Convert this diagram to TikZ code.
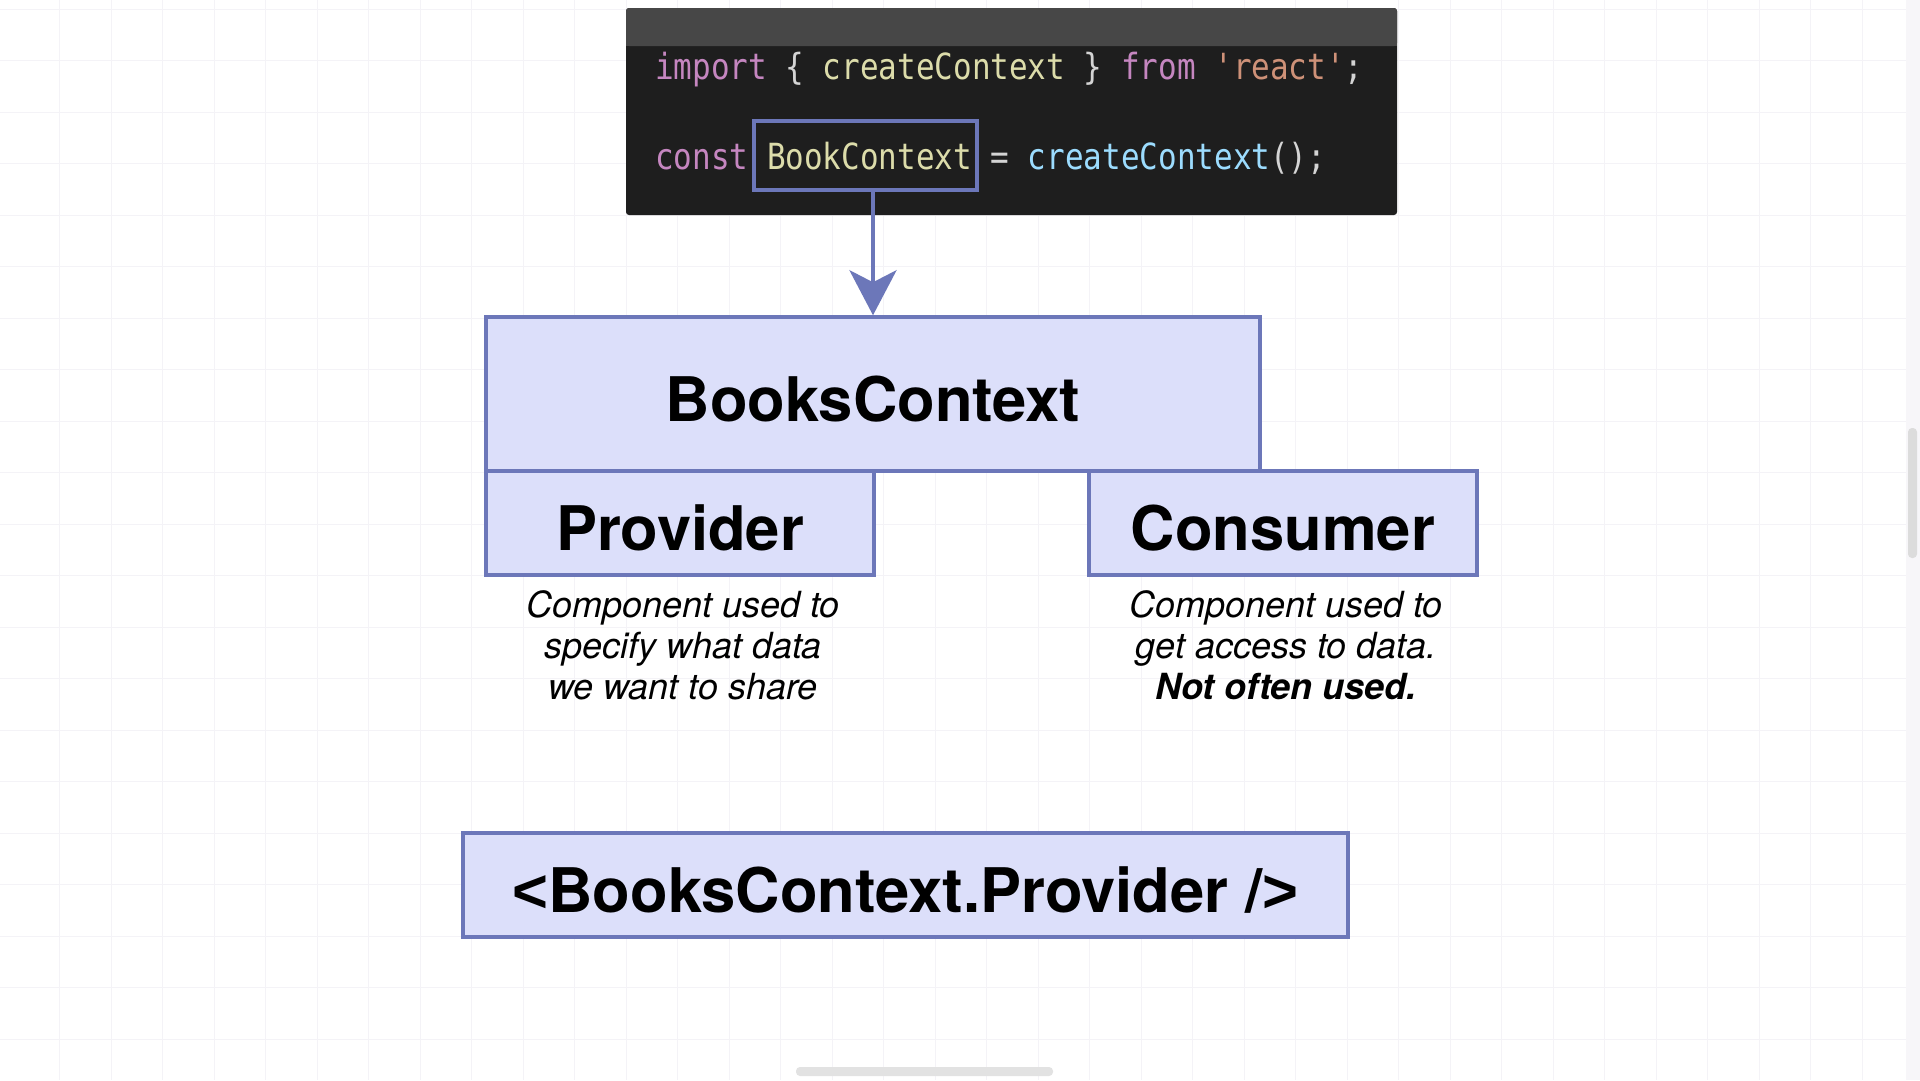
\documentclass[tikz,border=0pt]{standalone}
\usepackage{fontspec}
\setmainfont{TeX Gyre Heros}
\newfontfamily\codefont[FakeStretch=0.86]{DejaVu Sans Mono}
\newfontfamily\arialfont{Liberation Sans}
\usetikzlibrary{arrows.meta}
\definecolor{boxfill}{HTML}{DCDFFA}
\definecolor{boxline}{HTML}{6C77B9}
\definecolor{codebg}{HTML}{1E1E1E}
\definecolor{codebar}{HTML}{474747}
\definecolor{kw}{HTML}{C586C0}
\definecolor{fn}{HTML}{DCDCAA}
\definecolor{str}{HTML}{CE9178}
\definecolor{fnb}{HTML}{9CDCFE}
\definecolor{plain}{HTML}{D4D4D4}
\definecolor{gridc}{HTML}{F4F3F7}
\definecolor{panelc}{HTML}{F7F6F9}
\definecolor{scrollc}{HTML}{DCDCDC}
\definecolor{scrollb}{HTML}{E2E2E2}
\tikzset{
  ctxbox/.style={draw=boxline, fill=boxfill, line width=3.5pt, inner sep=0pt,
    text height=54pt, text depth=0pt,
    font=\fontsize{61.5}{70}\selectfont\bfseries},
  desc/.style={align=center, inner sep=0pt, font=\fontsize{36}{41}\selectfont\itshape},
  codeline/.style={anchor=west, inner sep=0pt, font=\fontsize{36}{40}\selectfont\codefont},
}
\begin{document}
\begin{tikzpicture}[x=1pt,y=-1pt]
\useasboundingbox (0,0) rectangle (1920,1080);
\fill[white] (0,0) rectangle (1920,1080);
% faint grid
\foreach \i in {0,...,36} {\draw[gridc, line width=1pt] ({59.5+\i*51.5},0) -- ({59.5+\i*51.5},1080);}
\foreach \j in {0,...,20} {\draw[gridc, line width=1pt] (0,{9+\j*51.5}) -- (1920,{9+\j*51.5});}
% right panel & scrollbars
\fill[panelc] (1906,0) rectangle (1920,1080);
\fill[scrollc, rounded corners=4pt] (1908,428) rectangle (1917,558);
\fill[scrollb, rounded corners=4pt] (796,1067) rectangle (1053,1076);

% code box
\fill[codebg, rounded corners=3pt] (626,8) rectangle (1397,215);
\fill[codebar, rounded corners=3pt] (626,8) rectangle (1397,46);
\fill[codebar] (626,30) rectangle (1397,46);
\node[codeline] (l1) at (655,70) {\textcolor{kw}{import} \textcolor{plain}{\{} \textcolor{fn}{createContext} \textcolor{plain}{\}} \textcolor{kw}{from} \textcolor{str}{'react'}\textcolor{plain}{;}};
\node[codeline] (l2) at (655,158) {\textcolor{kw}{const} \textcolor{fn}{BookContext} \textcolor{plain}{=} \textcolor{fnb}{createContext}\textcolor{plain}{();}};
\node[draw=boxline, line width=3.5pt, minimum width=223pt, minimum height=69pt, inner sep=0pt] (hl) at (865.5,155.5) {};

% boxes
\node[ctxbox, minimum width=774pt, minimum height=154pt] (books) at (873,394) {BooksContext};
\node[ctxbox, minimum width=388pt, minimum height=104pt] (prov) at (680,523) {Provider};
\node[ctxbox, minimum width=388pt, minimum height=104pt] (cons) at (1283,523) {Consumer};
\node[ctxbox, minimum width=885pt, minimum height=104pt] (tag) at (905.5,885) {{\arialfont <}BooksContext.Provider /{\arialfont >}};

% descriptions
\node[desc] (pdesc) at (683,645) {Component used to\\specify what data\\we want to share};
\node[desc] (cdesc) at (1286,645) {Component used to\\get access to data.\\\textbf{Not often used.}};

% arrow
\draw[boxline, line width=4pt, -{Stealth[width=47pt,length=45pt,inset=12pt]}] (books.north |- hl.south) -- (books.north);
\end{tikzpicture}
\end{document}
